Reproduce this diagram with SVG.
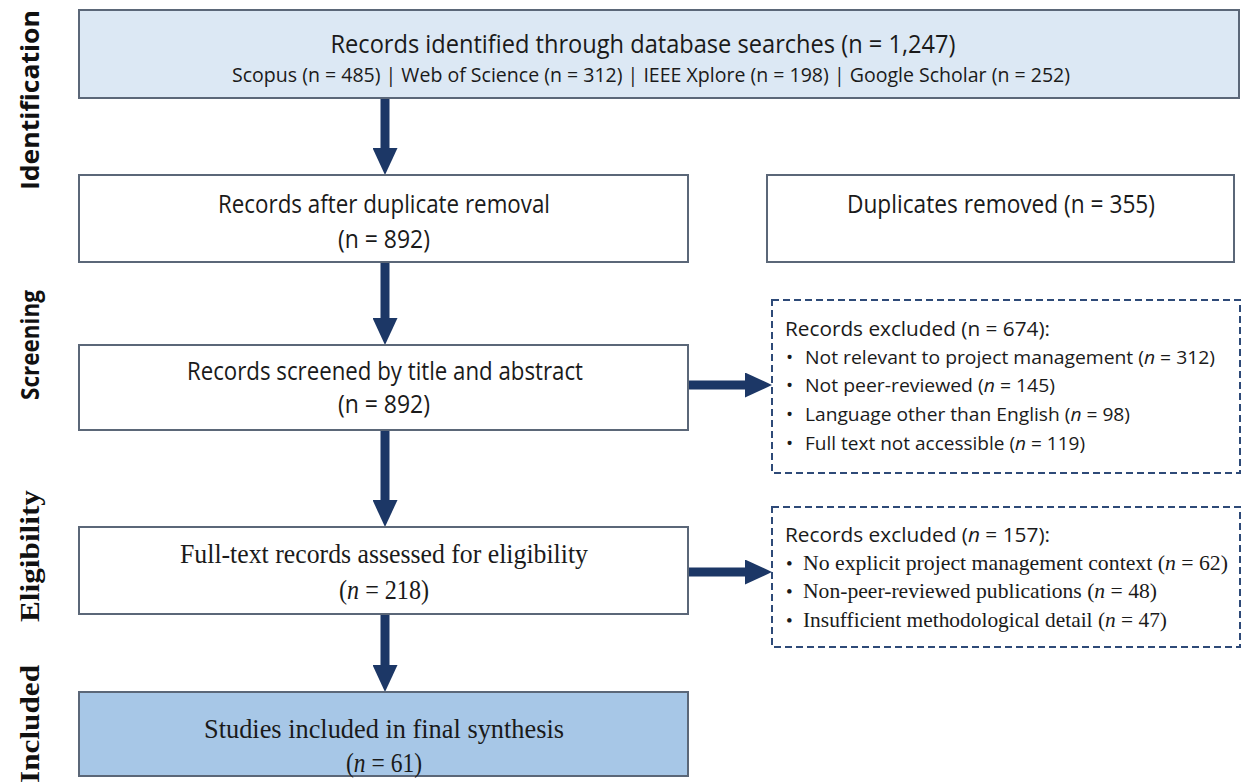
<svg xmlns="http://www.w3.org/2000/svg" width="1242" height="782" viewBox="0 0 1242 782">
<style>
.box{fill:#ffffff;stroke:#5b6778;stroke-width:2}
.blue{fill:#dce8f4}
.inc{fill:#a7c7e7}
.dash{fill:#ffffff;stroke:#2e4a78;stroke-width:2;stroke-dasharray:7 4}
.cal{font-family:"Open Sans","Liberation Sans",sans-serif;fill:#1a1a1a}
.ser{font-family:"Liberation Serif","DejaVu Serif",serif;fill:#1a1a1a}
.phase{font-family:"Open Sans","DejaVu Sans",sans-serif;font-weight:bold;font-size:25px;fill:#111}
.phs{font-family:"Liberation Serif","DejaVu Serif",serif;font-weight:bold;font-size:27px;fill:#111}
.conn{stroke:#1c3766;stroke-width:9;fill:none}
</style>
<defs>
<marker id="ah" markerUnits="userSpaceOnUse" markerWidth="27" markerHeight="25" refX="0" refY="12.5" orient="auto">
<path d="M0,0 L27,12.5 L0,25 Z" fill="#1c3766"/>
</marker>
</defs>
<g id="phases">
<text class="phase" transform="translate(39,100) rotate(-90)" text-anchor="middle" textLength="180" lengthAdjust="spacingAndGlyphs">Identification</text>
<text class="phase" transform="translate(39,345) rotate(-90)" text-anchor="middle" textLength="110" lengthAdjust="spacingAndGlyphs">Screening</text>
<text class="phs" transform="translate(39,556) rotate(-90)" text-anchor="middle" textLength="132" lengthAdjust="spacingAndGlyphs">Eligibility</text>
<text class="phs" transform="translate(39,724) rotate(-90)" text-anchor="middle" textLength="118" lengthAdjust="spacingAndGlyphs">Included</text>
</g>
<g id="connectors">
<line class="conn" x1="385" y1="98" x2="385" y2="148" marker-end="url(#ah)"/>
<line class="conn" x1="385" y1="262" x2="385" y2="318" marker-end="url(#ah)"/>
<line class="conn" x1="385" y1="430" x2="385" y2="500" marker-end="url(#ah)"/>
<line class="conn" x1="385" y1="614" x2="385" y2="665" marker-end="url(#ah)"/>
<line class="conn" x1="688" y1="385" x2="745" y2="385" marker-end="url(#ah)"/>
<line class="conn" x1="688" y1="572" x2="745" y2="572" marker-end="url(#ah)"/>
</g>
<g id="identified">
<rect class="box blue" x="79" y="10" width="1160" height="88"/>
<text class="cal" x="643" y="53" font-size="25" text-anchor="middle" textLength="625" lengthAdjust="spacingAndGlyphs">Records identified through database searches (n = 1,247)</text>
<text class="cal" x="651" y="82" font-size="20" text-anchor="middle" textLength="838" lengthAdjust="spacingAndGlyphs">Scopus (n = 485) | Web of Science (n = 312) | IEEE Xplore (n = 198) | Google Scholar (n = 252)</text>
</g>
<g id="dedup">
<rect class="box" x="79" y="175" width="609" height="87"/>
<text class="cal" x="384" y="213" font-size="26" text-anchor="middle" textLength="332" lengthAdjust="spacingAndGlyphs">Records after duplicate removal</text>
<text class="cal" x="384" y="248" font-size="26" text-anchor="middle" textLength="92" lengthAdjust="spacingAndGlyphs">(n = 892)</text>
</g>
<g id="duplicates">
<rect class="box" x="767" y="175" width="467" height="87"/>
<text class="cal" x="1001" y="213" font-size="26" text-anchor="middle" textLength="308" lengthAdjust="spacingAndGlyphs">Duplicates removed (n = 355)</text>
</g>
<g id="screened">
<rect class="box" x="79" y="345" width="609" height="85"/>
<text class="cal" x="385" y="380" font-size="26" text-anchor="middle" textLength="396" lengthAdjust="spacingAndGlyphs">Records screened by title and abstract</text>
<text class="cal" x="384" y="413" font-size="26" text-anchor="middle" textLength="92" lengthAdjust="spacingAndGlyphs">(n = 892)</text>
</g>
<g id="excluded1">
<rect class="dash" x="772" y="300" width="468" height="173"/>
<text class="cal" x="785" y="336" font-size="20" textLength="265" lengthAdjust="spacingAndGlyphs">Records excluded (n = 674):</text>
<text class="cal" x="786" y="364" font-size="19">•</text>
<text class="cal" x="805" y="364" font-size="19" textLength="410" lengthAdjust="spacingAndGlyphs">Not relevant to project management (<tspan font-style="italic">n</tspan> = 312)</text>
<text class="cal" x="786" y="392" font-size="19">•</text>
<text class="cal" x="805" y="392" font-size="19" textLength="250" lengthAdjust="spacingAndGlyphs">Not peer-reviewed (<tspan font-style="italic">n</tspan> = 145)</text>
<text class="cal" x="786" y="421" font-size="19">•</text>
<text class="cal" x="805" y="421" font-size="19" textLength="325" lengthAdjust="spacingAndGlyphs">Language other than English (<tspan font-style="italic">n</tspan> = 98)</text>
<text class="cal" x="786" y="450" font-size="19">•</text>
<text class="cal" x="805" y="450" font-size="19" textLength="280" lengthAdjust="spacingAndGlyphs">Full text not accessible (<tspan font-style="italic">n</tspan> = 119)</text>
</g>
<g id="eligibility">
<rect class="box" x="79" y="527" width="609" height="87"/>
<text class="ser" x="384" y="563" font-size="27" text-anchor="middle" textLength="408" lengthAdjust="spacingAndGlyphs">Full-text records assessed for eligibility</text>
<text class="ser" x="384" y="599" font-size="27" text-anchor="middle" textLength="90" lengthAdjust="spacingAndGlyphs">(<tspan font-style="italic">n</tspan> = 218)</text>
</g>
<g id="excluded2">
<rect class="dash" x="772" y="507" width="468" height="140"/>
<text class="cal" x="785" y="542" font-size="20" textLength="265" lengthAdjust="spacingAndGlyphs">Records excluded (<tspan font-style="italic">n</tspan> = 157):</text>
<text class="ser" x="786" y="570" font-size="19">•</text>
<text class="ser" x="803" y="570" font-size="21" textLength="425" lengthAdjust="spacingAndGlyphs">No explicit project management context (<tspan font-style="italic">n</tspan> = 62)</text>
<text class="ser" x="786" y="598" font-size="19">•</text>
<text class="ser" x="803" y="598" font-size="21" textLength="354" lengthAdjust="spacingAndGlyphs">Non-peer-reviewed publications (<tspan font-style="italic">n</tspan> = 48)</text>
<text class="ser" x="786" y="627" font-size="19">•</text>
<text class="ser" x="803" y="627" font-size="21" textLength="364" lengthAdjust="spacingAndGlyphs">Insufficient methodological detail (<tspan font-style="italic">n</tspan> = 47)</text>
</g>
<g id="included">
<rect class="box inc" x="79" y="692" width="609" height="84"/>
<text class="ser" x="384" y="738" font-size="27" text-anchor="middle" textLength="360" lengthAdjust="spacingAndGlyphs">Studies included in final synthesis</text>
<text class="ser" x="384" y="772" font-size="27" text-anchor="middle" textLength="76" lengthAdjust="spacingAndGlyphs">(<tspan font-style="italic">n</tspan> = 61)</text>
</g>
</svg>
